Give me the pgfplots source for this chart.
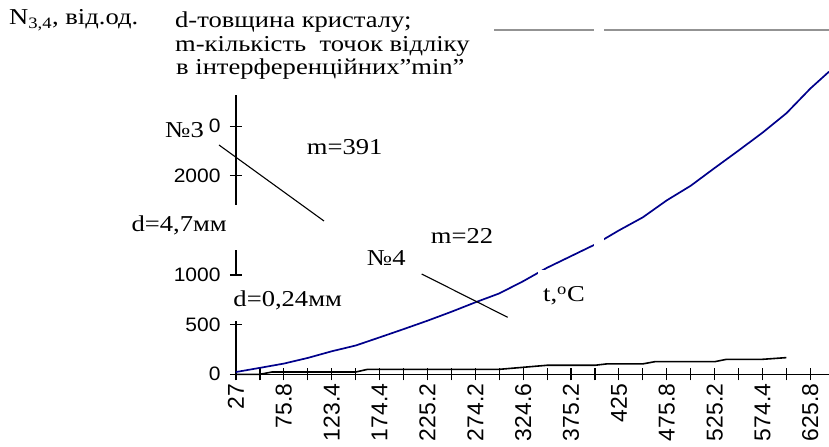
\documentclass[border=0pt]{standalone}
\usepackage{pgfplots}
\pgfplotsset{compat=1.18}
\usepackage{fontspec}
\setmainfont{Liberation Serif}[FakeStretch=1.17]
\newfontfamily\arialfont{Liberation Sans}[FakeStretch=1.08]
\newfontfamily\arialrot{Liberation Sans}
\definecolor{nthree}{RGB}{0,0,139}

\begin{document}
\begin{tikzpicture}
% page = 829 x 447 px, axis origin (27 / 0) sits at px (236, 374.3)
\useasboundingbox (-236bp,-72.7bp) rectangle (593bp,374.3bp);
\begin{axis}[
    scale only axis, width=593bp, height=344.3bp,
    xmin=0, xmax=24.78, ymin=0, ymax=3470,
    axis x line=bottom, axis y line=left,
    axis line style={-, line width=1.3bp, black},
    tick align=center, major tick length=12bp,
    tick style={black, line width=1.2bp},
    xtick={0,...,24},
    xticklabels={27,,75.8,,123.4,,174.4,,225.2,,274.2,,324.6,,375.2,,425,,475.8,,525.2,,574.4,,625.8},
    ytick={0,500,1000,2000,2500},
    yticklabels={0,500,1000,2000,0},
    x tick label style={rotate=90, anchor=east, font=\arialrot\fontsize{23}{23}\selectfont},
    y tick label style={anchor=east, xshift=-6bp, font=\arialfont\fontsize{19.5}{19.5}\selectfont},
    clip=false,
]
% N3, d=4,7 mm
\addplot[nthree, line width=1.7bp] coordinates {
(0,23) (1,65) (2,108) (3,165) (4,232) (5,290) (6,372) (7,455) (8,540)
(9,630) (10,725) (11,815) (12,938) (13,1074) (14,1191) (15,1308) (16,1450)
(17,1582) (18,1753) (19,1900) (20,2079) (21,2255) (22,2435) (23,2631)
(24,2880) (24.78,3050)
};
% N4, d=0,24 mm
\addplot[black, line width=1.6bp] coordinates {
(0,0) (1,0) (1.5,23) (5,23) (5.5,50) (11,50) (13,91) (15,91) (15.5,105)
(17,105) (17.5,127) (20,127) (20.5,151) (22,151) (23,168)
};
\end{axis}
\begin{scope}[shift={(-236bp,374.3bp)}, x=1bp, y=-1bp]
  \draw[gray!85, line width=1.5bp] (236,30) -- (829,30);
  % white text boxes covering axis / curve as in the original
  \fill[white] (160,0) rectangle (494,95);
  \fill[white] (128,205) rectangle (243,250);
  \fill[white] (228,276) rectangle (345,321);
  \fill[white] (538,270) rectangle (590,305);
  \fill[white] (594,20) rectangle (604,250);
  \begin{scope}[every node/.style={inner sep=0pt, font=\fontsize{22.8}{23.5}\selectfont}]
    \node[anchor=base west] at (9,25) {N\textsubscript{3,4}, від.од.};
    \node[anchor=base west] at (175,28) {d-товщина кристалу;};
    \node[anchor=base west] at (175,52) {m-кількість\ \ точок відліку};
    \node[anchor=base west] at (176,75) {в інтерференційних”min”};
    \node[anchor=base west] at (165,138) {№3};
    \node[anchor=base west] at (306.7,154.3) {m=391};
    \node[anchor=base east] at (227,231.7) {d=4,7мм};
    \node[anchor=base west] at (430.7,243.3) {m=22};
    \node[anchor=base west] at (366.7,266) {№4};
    \node[anchor=base west] at (233.3,306.7) {d=0,24мм};
    \node[anchor=base west] at (543,301.7) {t,\textsuperscript{o}C};
  \end{scope}
  \draw[black, line width=1.1bp] (219,145) -- (324,221);
  \draw[black, line width=1.1bp] (421.7,274) -- (507.7,317.3);
\end{scope}
\end{tikzpicture}
\end{document}
